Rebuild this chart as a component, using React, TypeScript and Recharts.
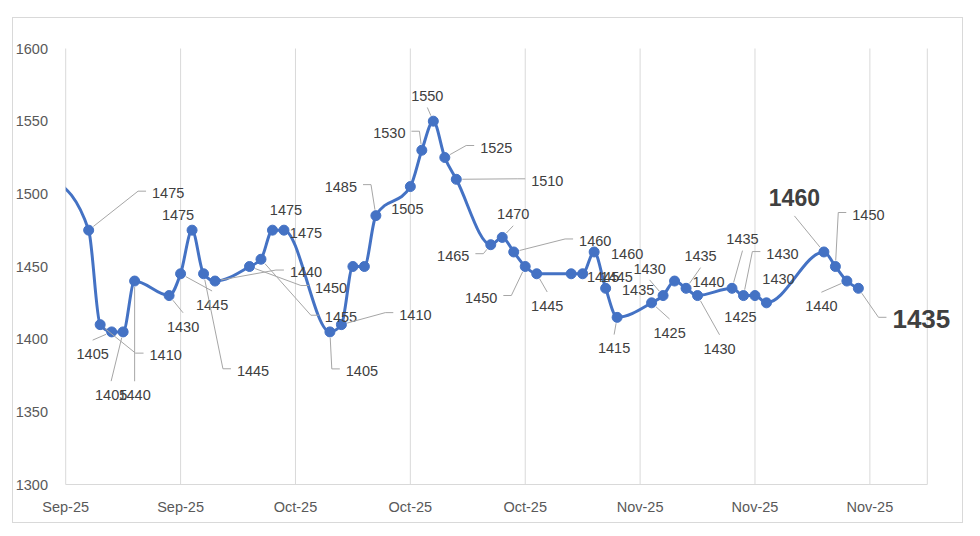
import React from "react";
import {
  LineChart,
  Line,
  XAxis,
  YAxis,
  CartesianGrid,
  LabelList,
} from "recharts";

// trading day offsets from the first axis gridline (Sep-25)
const days = [
  -1, 2, 3, 4, 5, 6, 9, 10, 11, 12, 13, 16, 17, 18, 19, 23, 24, 25, 26, 27, 30,
  31, 32, 33, 34, 37, 38, 39, 40, 41, 44, 45, 46, 47, 48, 51, 52, 53, 54, 55, 58,
  59, 60, 61, 66, 67, 68, 69,
];

const prices = [
  1510, 1475, 1410, 1405, 1405, 1440, 1430, 1445, 1475, 1445, 1440, 1450, 1455,
  1475, 1475, 1405, 1410, 1450, 1450, 1485, 1505, 1530, 1550, 1525, 1510, 1465,
  1470, 1460, 1450, 1445, 1445, 1445, 1460, 1435, 1415, 1425, 1430, 1440, 1435,
  1430, 1435, 1430, 1430, 1425, 1460, 1450, 1440, 1435,
];

const tickDays = [0, 10, 20, 30, 40, 50, 60, 70];
const tickLabels = [
  "Sep-25",
  "Sep-25",
  "Oct-25",
  "Oct-25",
  "Oct-25",
  "Nov-25",
  "Nov-25",
  "Nov-25",
];
const yTicks = [1300, 1350, 1400, 1450, 1500, 1550, 1600];

const data = days.map((d, i) => ({ day: d, price: prices[i] }));

// where each data label was dragged to: [dx, dy, leader side, bold size]
type LabelSpec = [number, number, string, number?] | null;
const labelLayout: LabelSpec[] = [
  null,
  [79.5, -37, "L"],
  [65.5, 30.5, "L"],
  [-19, 22, "T"],
  [-12, 63, "T"],
  [0, 114, "T"],
  [14, 31, "T"],
  [31.5, 31, "T"],
  [-14, -15, ""],
  [49.5, 97, "L"],
  [91, -9, "L"],
  [81.5, 21, "L"],
  [80, 58, "L"],
  [13.5, -20, ""],
  [22, 3, ""],
  [32, 39, "L"],
  [74, -10, "L"],
  null,
  null,
  [-35, -29, "R"],
  [-3, 22.5, ""],
  [-32.5, -17, "R"],
  [-6, -25, "B"],
  [51.5, -10, "L"],
  [91, 1.5, "L"],
  [-37.5, 11, "R"],
  [11, -23, "B"],
  [81.5, -11, "L"],
  [-44, 31, "R"],
  [10.5, 32, "T"],
  [32, 3, ""],
  [34, 3, ""],
  [33, 2, ""],
  [32.5, 2, ""],
  [-3, 31, "T"],
  [18, 30, "T"],
  [-13.5, -27, "B"],
  [34, 1, ""],
  [14.5, -32, "B"],
  [22, 53, "T"],
  [10.5, -49, "B"],
  [39, -42, "L"],
  [23.5, -17, ""],
  [-26, 14, ""],
  [-29.5, -54, "B", 23],
  [33, -52, "L"],
  [-25.5, 25, "T"],
  [63, 31, "L", 26],
];

const FONT = "'Liberation Sans', Arial, sans-serif";
const FS = 14.5;
const BLUE = "#4472C4";

function DataLabel(props: any) {
  const { index, value } = props;
  const x = props.viewBox?.x ?? props.x;
  const y = props.viewBox?.y ?? props.y;
  const spec = labelLayout[index];
  if (!spec || x == null || y == null) return null;
  const [dx, dy, mode, big] = spec;
  const fs = big || FS;
  const cx = x + dx;
  const cy = y + dy;
  const hw = (String(value).length * 0.556 * fs) / 2;

  // leader line vertices, from the label side back toward the point
  let pts: [number, number][] = [];
  if (mode === "L") {
    const bx = cx - hw - 6;
    pts = [
      [bx, cy - 2],
      [bx - 8, cy - 2],
    ];
  } else if (mode === "R") {
    const bx = cx + hw + 6;
    pts = [
      [bx, cy - 2],
      [bx + 8, cy - 2],
    ];
  } else if (mode === "T") {
    pts = [[cx, cy - 0.95 * fs]];
  } else if (mode === "B") {
    pts = [[cx, cy + 0.78 * fs]];
  }

  let leader = null;
  if (pts.length) {
    const [ex, ey] = pts[pts.length - 1];
    const len = Math.hypot(ex - x, ey - y);
    if (len > 7) {
      const sx = x + ((ex - x) / len) * 6;
      const sy = y + ((ey - y) / len) * 6;
      const all = [[sx, sy], ...pts.slice().reverse()];
      leader = (
        <polyline
          points={all.map((p) => p.join(",")).join(" ")}
          fill="none"
          stroke="#A6A6A6"
          strokeWidth={1}
        />
      );
    }
  }

  return (
    <g>
      {leader}
      <text
        x={cx}
        y={cy}
        textAnchor="middle"
        dominantBaseline="central"
        fontFamily={FONT}
        fontSize={fs}
        fontWeight={big ? 700 : 400}
        fill="#404040"
      >
        {value}
      </text>
    </g>
  );
}

export default function App() {
  return (
    <div
      style={{
        position: "absolute",
        left: 0,
        top: 0,
        width: 980,
        height: 536,
        background: "#fff",
      }}
    >
      <div
        style={{
          position: "absolute",
          left: 12,
          top: 17,
          width: 951,
          height: 506,
          border: "1px solid #D9D9D9",
          boxSizing: "border-box",
        }}
      />
      <div style={{ position: "absolute", left: 0, top: 0 }}>
        <LineChart
          width={980}
          height={536}
          data={data}
          margin={{ top: 48.5, right: 52.7, bottom: 21.5, left: 5.7 }}
        >
          <CartesianGrid horizontal={false} stroke="#D9D9D9" />
          <XAxis
            dataKey="day"
            type="number"
            domain={[0, 75]}
            allowDataOverflow
            ticks={tickDays}
            tickFormatter={(v: number) => tickLabels[tickDays.indexOf(v)] ?? ""}
            interval={0}
            height={30}
            tickLine={false}
            tickSize={0}
            tickMargin={17.5}
            axisLine={{ stroke: "#D9D9D9" }}
            tick={{ fill: "#595959", fontSize: FS, fontFamily: FONT }}
          />
          <YAxis
            type="number"
            domain={[1300, 1600]}
            ticks={yTicks}
            interval={0}
            width={60}
            axisLine={false}
            tickLine={false}
            tickSize={0}
            tickMargin={17.7}
            tick={{ fill: "#595959", fontSize: FS, fontFamily: FONT }}
          />
          <Line
            type="monotone"
            dataKey="price"
            stroke={BLUE}
            strokeWidth={3}
            dot={{ r: 5, fill: BLUE, stroke: BLUE, strokeWidth: 1 }}
            activeDot={false}
            isAnimationActive={false}
          >
            <LabelList dataKey="price" content={DataLabel} />
          </Line>
        </LineChart>
      </div>
    </div>
  );
}
